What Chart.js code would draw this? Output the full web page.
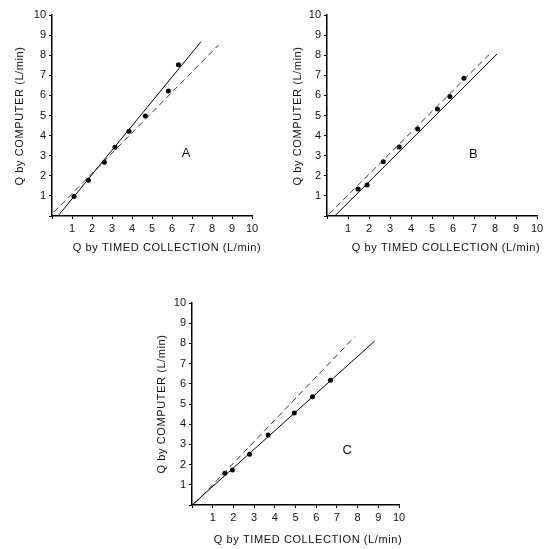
<!DOCTYPE html>
<html>
<head>
<meta charset="utf-8">
<script src="https://cdn.jsdelivr.net/npm/chart.js@4.4.1/dist/chart.umd.min.js"></script>
<style>
  html, body { margin: 0; padding: 0; background: #fff; }
  body { width: 550px; height: 549px; position: relative; overflow: hidden; }
  canvas { position: absolute; }
</style>
</head>
<body>
<canvas id="chartA" width="275" height="270" style="left:0px;top:0px"></canvas>
<canvas id="chartB" width="275" height="270" style="left:275px;top:0px"></canvas>
<canvas id="chartC" width="275" height="264" style="left:140px;top:285px"></canvas>
<script>
// tick labels (0 is left blank on both axes)
const tickValues = [0, 1, 2, 3, 4, 5, 6, 7, 8, 9, 10];

// panel A
const aTimed = [1.1, 1.82, 2.62, 3.15, 3.85, 4.67, 5.82, 6.32];
const aComputer = [0.97, 1.78, 2.68, 3.42, 4.22, 4.97, 6.22, 7.53];
const aFitX = [0.3, 7.45];
const aFitY = [0, 8.67];
const aRefX = [0.1, 8.32];
const aRefY = [0.2, 8.5];

// panel B
const bTimed = [1.48, 1.91, 2.68, 3.44, 4.32, 5.26, 5.85, 6.52];
const bComputer = [1.34, 1.54, 2.7, 3.43, 4.33, 5.32, 5.94, 6.85];
const bFitX = [0.37, 8.1];
const bFitY = [0, 8.06];
const bRefX = [0.1, 7.86];
const bRefY = [0.1, 8.18];

// panel C
const cTimed = [1.59, 1.95, 2.78, 3.68, 4.94, 5.82, 6.69];
const cComputer = [1.57, 1.73, 2.51, 3.47, 4.55, 5.36, 6.17];
const cFitX = [0, 8.83];
const cFitY = [0, 8.12];
const cRefX = [0.14, 7.86];
const cRefY = [0.08, 8.33];

const xTitle = 'Q by TIMED COLLECTION (L/min)';
const yTitle = 'Q by COMPUTER (L/min)';
const FONT = '"Liberation Sans", Arial, sans-serif';

function pairs(xs, ys) {
    return xs.map((x, i) => ({ x: x, y: ys[i] }));
}

// draws the panel letter and the two axis titles
const labelPlugin = {
    id: 'panelLabels',
    afterDraw(chart, args, opts) {
        const ctx = chart.ctx;
        ctx.save();
        ctx.fillStyle = '#111';
        ctx.textAlign = 'center';
        ctx.textBaseline = 'middle';
        ctx.font = '13px ' + FONT;
        ctx.fillText(opts.letter,
            chart.scales.x.getPixelForValue(opts.letterAt[0]),
            chart.scales.y.getPixelForValue(opts.letterAt[1]));
        ctx.font = '11px ' + FONT;
        ctx.letterSpacing = '0.6px';
        ctx.fillText(xTitle, opts.xTitleAt[0], opts.xTitleAt[1]);
        ctx.translate(opts.yTitleAt[0], opts.yTitleAt[1]);
        ctx.rotate(-Math.PI / 2);
        ctx.fillText(yTitle, 0, 0);
        ctx.restore();
    }
};

function makeChart(id, d, layout) {
    const axis = (size, fit) => ({
        type: 'linear',
        min: 0,
        max: 10,
        afterBuildTicks: (scale) => { scale.ticks = tickValues.map(v => ({ value: v })); },
        afterFit: fit,
        ticks: {
            color: '#111',
            font: { family: FONT, size: 11 },
            padding: 3,
            callback: (v) => v === 0 ? '' : v
        },
        grid: { drawOnChartArea: false, drawTicks: true, tickLength: 3, color: '#000' },
        border: { color: '#000', width: 1.5 }
    });
    return new Chart(document.getElementById(id), {
        type: 'scatter',
        data: {
            datasets: [
                {
                    data: pairs(d.fitX, d.fitY),
                    showLine: true,
                    borderColor: '#000',
                    borderWidth: 1,
                    pointRadius: 0
                },
                {
                    data: pairs(d.refX, d.refY),
                    showLine: true,
                    borderColor: '#333',
                    borderWidth: 1,
                    borderDash: [6, 4],
                    pointRadius: 0
                },
                {
                    data: pairs(d.x, d.y),
                    backgroundColor: '#000',
                    borderColor: '#000',
                    pointRadius: 2.5,
                    pointBorderWidth: 0
                }
            ]
        },
        options: {
            responsive: false,
            animation: false,
            devicePixelRatio: 1,
            layout: { padding: { top: layout.top, right: layout.right, left: 0, bottom: 0 } },
            plugins: {
                legend: { display: false },
                tooltip: { enabled: false },
                panelLabels: {
                    letter: d.letter,
                    letterAt: d.letterAt,
                    xTitleAt: layout.xTitleAt,
                    yTitleAt: layout.yTitleAt
                }
            },
            scales: {
                x: axis(10, (s) => { s.height = layout.xHeight; }),
                y: axis(10, (s) => { s.width = layout.yWidth; })
            }
        },
        plugins: [labelPlugin]
    });
}

makeChart('chartA',
    { x: aTimed, y: aComputer, fitX: aFitX, fitY: aFitY, refX: aRefX, refY: aRefY, letter: 'A', letterAt: [6.7, 3.1] },
    { top: 15, right: 23, yWidth: 52, xHeight: 54, xTitleAt: [167, 248], yTitleAt: [20, 116] });

makeChart('chartB',
    { x: bTimed, y: bComputer, fitX: bFitX, fitY: bFitY, refX: bRefX, refY: bRefY, letter: 'B', letterAt: [6.97, 3.05] },
    { top: 15, right: 13, yWidth: 52, xHeight: 54, xTitleAt: [171, 248], yTitleAt: [23, 116] });

makeChart('chartC',
    { x: cTimed, y: cComputer, fitX: cFitX, fitY: cFitY, refX: cRefX, refY: cRefY, letter: 'C', letterAt: [7.5, 2.7] },
    { top: 18, right: 16, yWidth: 52, xHeight: 44, xTitleAt: [168, 255], yTitleAt: [22, 119] });
</script>
</body>
</html>
